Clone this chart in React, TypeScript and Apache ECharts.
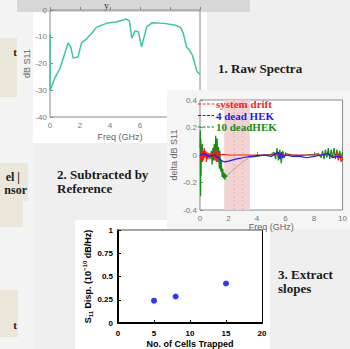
import React, { useEffect, useRef } from 'react';
import * as echarts from 'echarts';

// ---- Chart 1: raw spectra (Freq GHz, dB S11)
const rawSpectrum: [number, number][] = [
  [0, -9], [0.01, -30], [0.33, -25.4], [0.67, -21.7], [1.0, -16], [1.2, -12.3], [1.38, -13.8],
  [1.55, -18], [1.87, -17.5], [2.1, -12.3], [2.4, -11], [2.8, -8.6], [3.1, -6.4], [3.8, -4.9],
  [4.4, -4.5], [5.1, -3.4], [5.3, -4.2], [5.45, -10.5], [5.67, -7.8], [5.9, -8.2], [6.1, -13.8],
  [6.45, -6.3], [6.8, -4.8], [7.6, -5], [8.3, -5.6], [8.7, -6.5], [8.9, -9], [9.1, -13.8],
  [9.3, -15], [9.5, -17], [9.8, -23], [10, -24],
];

// ---- Chart 2: subtracted by reference (Freq GHz, delta dB S11)
const tenDeadHek: ([number, number] | ['-', '-'])[] = [
  [0, 0.05], [0.02, 0.18], [0.04, -0.3], [0.06, 0.12], [0.08, -0.15], [0.1, 0.06], [0.13, -0.05],
  [0.16, 0.08], [0.2, -0.04], [0.25, 0.03], [0.3, -0.02], [0.4, 0.02], [0.5, -0.01], [0.6, 0.01],
  [0.7, -0.03], [0.8, 0.03], [0.85, -0.07], [0.9, 0.05], [0.95, -0.04], [1.0, 0.08], [1.05, -0.02],
  [1.1, 0.14], [1.15, 0.02], [1.2, 0.12], [1.25, -0.05], [1.3, 0.06], [1.35, -0.1], [1.4, 0.03],
  [1.45, -0.12], [1.5, -0.04], [1.55, -0.16], [1.6, -0.1], [1.65, -0.17], [1.7, -0.13], [1.75, -0.18],
  [1.8, -0.14], [1.85, -0.16], [1.9, -0.15], ['-', '-'], [3.5, -0.015],
  [4, -0.01], [4.5, 0], [5, 0.005], [5.2, 0.02], [5.3, -0.03], [5.4, 0.05], [5.5, -0.04], [5.6, 0.04],
  [5.7, -0.06], [5.8, 0.03], [5.9, -0.02], [6.0, 0.01], [6.5, 0], [7, -0.005], [7.5, 0], [8, 0.005],
  [8.3, 0.01], [8.5, -0.02], [8.6, 0.03], [8.7, -0.03], [8.8, 0.04], [8.9, -0.02], [9.0, 0.05],
  [9.1, -0.03], [9.2, 0.04], [9.3, -0.02], [9.4, 0.05], [9.5, -0.03], [9.6, 0.04], [9.7, -0.02],
  [9.8, 0.03], [9.9, -0.02], [10, 0.02],
];
const tenDeadHekRecovery: [number, number][] = [
  [1.9, -0.15], [2.2, -0.12], [2.6, -0.085], [3.0, -0.05], [3.5, -0.015],
];
const systemDrift: [number, number][] = [
  [0, 0], [0.05, -0.03], [0.1, 0.04], [0.15, -0.05], [0.2, 0.03], [0.25, -0.04], [0.3, 0.05],
  [0.35, -0.02], [0.4, 0.03], [0.45, -0.05], [0.5, 0.02], [0.55, -0.03], [0.6, 0.01], [0.7, 0],
  [0.8, 0.01], [0.9, -0.01], [1.0, 0.03], [1.05, -0.04], [1.1, 0.04], [1.15, -0.05], [1.2, 0.03],
  [1.25, -0.03], [1.3, 0.02], [1.4, 0], [1.6, 0.005], [2, 0], [3, 0], [4, 0], [5, 0], [5.5, 0.005],
  [6, 0], [7, 0], [8, 0], [9, 0], [9.5, -0.01], [9.6, 0.02], [9.7, -0.04], [9.8, 0.01], [9.9, -0.05], [10, -0.02],
];
const fourDeadHek: [number, number][] = [
  [0, 0], [0.3, 0.01], [0.6, -0.01], [1.0, 0], [1.3, -0.02], [1.5, -0.04], [1.7, -0.05], [2.0, -0.045],
  [2.5, -0.03], [3.0, -0.02], [3.5, -0.01], [4, -0.005], [4.5, 0], [5, -0.01], [5.3, 0.01], [5.5, 0.02],
  [5.6, -0.03], [5.7, 0.02], [5.8, -0.02], [6, 0], [6.5, -0.01], [7, -0.01], [7.5, -0.02], [8, -0.01],
  [8.5, 0], [9, 0.01], [9.3, -0.02], [9.6, -0.01], [10, -0.02],
];
const shadedBand: [number, number] = [1.7, 3.5];
const bandLines = [2.4, 3.0];
const deltaRange: [number, number] = [-0.4, 0.4];

// ---- Chart 3: extracted slopes
const cellsTrapped = [5, 8, 15];
const s11Disp = [0.24, 0.285, 0.425];

const legendRows = [
  { label: 'system drift', color: '#ff1a1a' },
  { label: '4 dead HEK', color: '#1a1aff' },
  { label: '10 deadHEK', color: '#158a15' },
];

const SERIF = '"Liberation Serif", "Times New Roman", serif';
const SANS = '"Liberation Sans", Arial, sans-serif';

export default function App() {
  const ref = useRef<HTMLDivElement>(null);
  useEffect(() => {
    if (!ref.current) return;
    const chart = echarts.init(ref.current, undefined, { renderer: 'svg' });

    const rect = (x: number, y: number, w: number, h: number, fill: string, z: number) => ({
      type: 'rect', shape: { x, y, width: w, height: h }, style: { fill }, z, silent: true,
    });
    const text = (x: number, y: number, t: string, font: string, fill: string, z: number, align = 'left', lineHeight?: number) => ({
      type: 'text', x, y, z, silent: true,
      style: { text: t, font, fill, align, verticalAlign: 'middle', textAlign: align, textVerticalAlign: 'middle', lineHeight },
    });

    const graphics: any[] = [
      rect(0, 0, 33, 349, '#f4f4f4', 0),
      rect(17, 0, 233, 12, '#d7d7d7', 0),
      text(104, 5, 'y', `10px ${SERIF}`, '#333', 0),
      rect(0, 38, 17, 59, '#ebe7db', 0),
      text(17, 52, 't', `bold 11px ${SERIF}`, '#222', 0, 'right'),
      rect(0, 163, 28, 38, '#ebe7db', 0),
      rect(0, 200, 23, 27, '#ebe7db', 0),
      text(20, 177, 'el |', `bold 12px ${SERIF}`, '#222', 0, 'right'),
      text(27, 190, 'nsor', `bold 12px ${SERIF}`, '#222', 0, 'right'),
      rect(0, 290, 18, 47, '#ebe7db', 0),
      text(17, 325, 't', `bold 11px ${SERIF}`, '#222', 0, 'right'),
      // chart 1 panel
      rect(33, 12, 174, 131, '#ffffff', 0),
      text(218, 68.5, '1. Raw Spectra', `bold 13px ${SERIF}`, '#1a1a1a', 0),
      text(57, 181.5, '2. Subtracted by\nReference', `bold 13px ${SERIF}`, '#1a1a1a', 0, 'left', 14),
      // chart 3 panel
      rect(75, 220, 195, 129, '#ffffff', 3),
      text(278, 281, '3. Extract\nslopes', `bold 13px ${SERIF}`, '#1a1a1a', 3, 'left', 14),
      // chart 2 panel
      rect(167, 90, 183, 139, '#f5f5f5', 6),
    ];
    legendRows.forEach((r, i) => {
      const yy = 104 + i * 11.5;
      graphics.push({
        type: 'line', z: 9, silent: true,
        shape: { x1: 198, y1: yy, x2: 214, y2: yy },
        style: { stroke: r.color, lineWidth: 1, lineDash: [3, 1.5] },
      });
      graphics.push(text(216, yy, r.label, `bold 11px ${SERIF}`, r.color, 9));
    });

    const grayAxisLabel = { color: '#777', fontSize: 8, fontFamily: SANS, margin: 4 };
    const grayName = { color: '#666', fontSize: 9, fontFamily: SANS };
    const boldLbl = { color: '#000', fontSize: 8, fontWeight: 'bold', fontFamily: SANS };

    const option: any = {
      animation: false,
      backgroundColor: '#efefef',
      graphic: graphics,
      grid: [
        { left: 50, top: 10, width: 150, height: 107, show: true, borderColor: '#8a8a8a', borderWidth: 1, backgroundColor: 'transparent', z: 1 },
        { left: 200, top: 100, width: 155, height: 110, show: true, borderColor: '#8a8a8a', borderWidth: 1, backgroundColor: '#ffffff', z: 7 },
        { left: 118, top: 230, width: 144, height: 95, show: false, z: 4 },
      ],
      xAxis: [
        {
          gridIndex: 0, type: 'value', min: 0, max: 10, interval: 2, z: 1,
          axisLine: { show: false }, splitLine: { show: false },
          axisTick: { inside: true, length: 3, lineStyle: { color: '#888' } },
          axisLabel: grayAxisLabel,
          name: 'Freq (GHz)', nameLocation: 'middle', nameGap: 15,
          nameTextStyle: { ...grayName, padding: [0, 10, 0, 0] },
        },
        {
          gridIndex: 1, type: 'value', min: 0, max: 10, interval: 2, z: 7,
          axisLine: { show: false }, splitLine: { show: false },
          axisTick: { inside: true, length: 3, lineStyle: { color: '#888' } },
          axisLabel: grayAxisLabel,
          name: 'Freq (GHz)', nameLocation: 'middle', nameGap: 11,
          nameTextStyle: grayName,
        },
        {
          gridIndex: 2, type: 'value', min: 0, max: 20, interval: 5, z: 4,
          axisLine: { show: true, onZero: false, lineStyle: { color: '#000', width: 2 } },
          splitLine: { show: false },
          axisTick: { inside: true, length: 3, lineStyle: { color: '#000' } },
          axisLabel: { ...boldLbl, margin: 6 },
          name: 'No. of Cells Trapped', nameLocation: 'middle', nameGap: 16,
          nameTextStyle: { color: '#000', fontSize: 9, fontWeight: 'bold', fontFamily: SANS },
        },
        {
          gridIndex: 2, type: 'value', min: 0, max: 20, position: 'top', z: 4,
          axisLine: { show: true, onZero: false, lineStyle: { color: '#888', width: 1.5 } },
          axisTick: { show: false }, axisLabel: { show: false }, splitLine: { show: false },
        },
      ],
      yAxis: [
        {
          gridIndex: 0, type: 'value', min: -40, max: 0, interval: 10, z: 1,
          axisLine: { show: false }, splitLine: { show: false },
          axisTick: { inside: true, length: 3, lineStyle: { color: '#888' } },
          axisLabel: { ...grayAxisLabel, margin: 3 },
          name: 'dB S11', nameLocation: 'middle', nameGap: 16,
          nameTextStyle: grayName,
        },
        {
          gridIndex: 1, type: 'value', min: deltaRange[0], max: deltaRange[1], interval: 0.2, z: 7,
          axisLine: { show: false }, splitLine: { show: false },
          axisTick: { inside: true, length: 3, lineStyle: { color: '#888' } },
          axisLabel: { ...grayAxisLabel, margin: 3 },
          name: 'delta dB S11', nameLocation: 'middle', nameGap: 22,
          nameTextStyle: grayName,
        },
        {
          gridIndex: 2, type: 'value', min: 0, max: 1, interval: 0.25, z: 4,
          axisLine: { show: true, onZero: false, lineStyle: { color: '#000', width: 2 } },
          splitLine: { show: false },
          axisTick: { inside: true, length: 3, lineStyle: { color: '#000' } },
          axisLabel: { ...boldLbl, margin: 5 },
          name: '{b|S}{s|11}{b| Disp. (10}{p|−10}{b| dB/Hz)}', nameLocation: 'middle', nameGap: 23,
          nameTextStyle: {
            rich: {
              b: { fontSize: 9, fontWeight: 'bold', fontFamily: SANS, color: '#000', lineHeight: 12 },
              s: { fontSize: 6, fontWeight: 'bold', fontFamily: SANS, color: '#000', lineHeight: 12, verticalAlign: 'bottom' },
              p: { fontSize: 6, fontWeight: 'bold', fontFamily: SANS, color: '#000', lineHeight: 12, verticalAlign: 'top' },
            },
          },
        },
        {
          gridIndex: 2, type: 'value', min: 0, max: 1, position: 'right', z: 4,
          axisLine: { show: true, onZero: false, lineStyle: { color: '#000', width: 1 } },
          axisTick: { show: false }, axisLabel: { show: false }, splitLine: { show: false },
        },
      ],
      series: [
        {
          type: 'line', xAxisIndex: 0, yAxisIndex: 0, data: rawSpectrum, showSymbol: false, z: 2,
          lineStyle: { color: '#3fc4a4', width: 1.5 }, itemStyle: { color: '#3fc4a4' },
        },
        // shaded band (drawn as an area from axis min to max)
        {
          type: 'line', xAxisIndex: 1, yAxisIndex: 1, z: 7.5, showSymbol: false, silent: true,
          data: [[shadedBand[0], deltaRange[1]], [shadedBand[1], deltaRange[1]]],
          lineStyle: { width: 0, opacity: 0 },
          areaStyle: { color: '#f3d2d2', opacity: 1, origin: 'start' },
        },
        ...bandLines.map((v) => ({
          type: 'line', xAxisIndex: 1, yAxisIndex: 1, z: 7.6, showSymbol: false, silent: true,
          data: [[v, deltaRange[0]], [v, deltaRange[1]]],
          lineStyle: { color: '#dfaaaa', type: [2, 2], width: 0.8 },
        })),
        {
          type: 'line', xAxisIndex: 1, yAxisIndex: 1, data: tenDeadHekRecovery, showSymbol: false, z: 8,
          lineStyle: { color: '#8fa88f', width: 0.8 }, itemStyle: { color: '#8fa88f' },
        },
        {
          type: 'line', xAxisIndex: 1, yAxisIndex: 1, data: tenDeadHek, showSymbol: false, z: 8, connectNulls: false,
          lineStyle: { color: '#158a15', width: 1.2 }, itemStyle: { color: '#158a15' },
        },
        {
          type: 'line', xAxisIndex: 1, yAxisIndex: 1, data: systemDrift, showSymbol: false, z: 8,
          lineStyle: { color: '#ff1a1a', width: 1.2 }, itemStyle: { color: '#ff1a1a' },
        },
        {
          type: 'line', xAxisIndex: 1, yAxisIndex: 1, data: fourDeadHek, showSymbol: false, z: 8,
          lineStyle: { color: '#1a1aff', width: 1.2 }, itemStyle: { color: '#1a1aff' },
        },
        {
          type: 'scatter', xAxisIndex: 2, yAxisIndex: 2, z: 5, symbolSize: 6,
          data: cellsTrapped.map((c, i) => [c, s11Disp[i]]),
          itemStyle: { color: '#0000ff' },
        },
      ],
    };
    chart.setOption(option);
    return () => chart.dispose();
  }, []);
  return <div ref={ref} style={{ position: 'fixed', left: 0, top: 0, width: 350, height: 349 }} />;
}
